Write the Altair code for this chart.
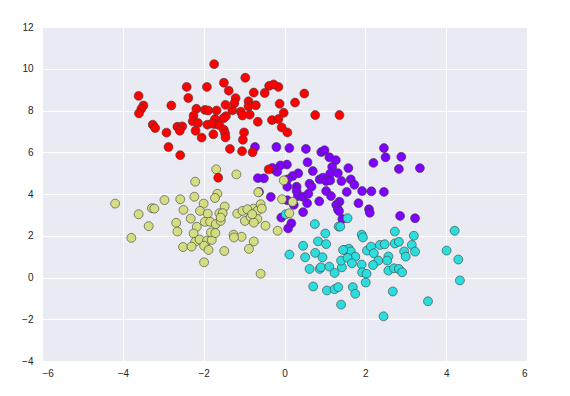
import altair as alt
import pandas as pd

# cluster 3 (red)
red_x = [-1.74, -0.97, -2.42, -1.92, -1.50, -1.38, -0.38, -0.15, -0.27, -0.76, -0.49, 0.49,
         -3.61, -2.38, -1.21, -1.24, -0.89, -0.89, -0.71, -1.46, -0.12, 0.26, -3.49, -3.54,
         -3.60, -2.80, -2.18, -1.97, -1.89, -1.68, -1.29, -1.08, -1.04, -0.86, -0.02, 0.76,
         -1.45, -1.51, -2.25, -2.27, -2.14, -1.72, -1.73, -1.91, -1.80, -1.61, -1.50, -0.66,
         -0.31, -0.15, -0.07, 0.07, -3.26, -3.20, -2.92, -2.65, -2.53, -2.59, -2.20, -2.05,
         -1.76, -1.47, -1.46, -1.00, -1.03, -2.87, -2.58, -1.35, -1.05, -0.79, -0.39, -1.64, 1.36]
red_y = [10.22, 9.57, 9.13, 9.13, 9.33, 8.95, 9.18, 9.13, 9.25, 8.86, 8.84, 8.81,
         8.70, 8.60, 8.59, 8.35, 8.44, 8.20, 8.25, 8.27, 8.32, 8.38, 8.24, 8.08,
         7.86, 8.24, 8.08, 8.03, 8.00, 8.00, 8.01, 7.94, 7.76, 7.80, 7.89, 7.78,
         7.73, 7.63, 7.75, 7.48, 7.40, 7.59, 7.35, 7.32, 7.37, 7.29, 7.08, 7.46,
         7.54, 7.59, 7.19, 6.95, 7.32, 7.16, 6.94, 7.22, 7.24, 7.03, 7.03, 6.70,
         6.86, 6.90, 6.71, 6.95, 6.60, 6.25, 5.86, 6.16, 6.05, 6.00, 5.18, 4.78, 7.78]

# cluster 0 (purple)
purple_x = [-0.73, -0.20, 0.12, 0.53, 0.91, 0.99, 1.11, 1.27, 2.46, 2.50, 2.89, 2.20,
            2.83, 3.35, 0.57, 1.18, 1.58, 0.70, 0.06, -0.10, -0.26, -0.18, 0.34, 0.20,
            0.07, -0.66, -0.51, 1.13, 1.32, 0.87, 0.95, 1.03, 1.13, 1.41, 1.64, 1.73,
            0.62, 0.67, 0.30, 0.07, 0.30, 0.33, 0.45, 0.59, -0.63, -0.34, 1.03, 1.15,
            1.54, 1.92, 2.15, 2.46, 0.86, 0.56, 0.23, 0.07, 1.36, 1.28, 1.32, 1.35,
            1.83, 2.09, 2.11, 0.46, -0.08, 0.17, 0.09, 1.43, 2.86, 3.23, -0.30]
purple_y = [6.25, 6.25, 6.20, 6.16, 6.01, 6.10, 5.76, 5.62, 6.20, 5.76, 5.78, 5.49,
            5.20, 5.24, 5.52, 5.30, 5.24, 5.10, 5.41, 5.37, 5.18, 5.06, 4.99, 4.86,
            4.70, 4.76, 4.75, 4.97, 5.00, 4.70, 4.78, 4.62, 4.65, 4.62, 4.70, 4.44,
            4.49, 4.35, 4.35, 4.35, 4.14, 3.90, 3.87, 4.01, 4.10, 3.86, 4.14, 3.90,
            4.10, 4.14, 4.13, 4.10, 3.65, 3.56, 3.48, 3.70, 3.63, 3.48, 3.27, 3.18,
            3.56, 3.27, 3.10, 3.13, 2.87, 2.60, 2.35, 2.80, 2.95, 2.84, 5.25]

# cluster 2 (yellow)
yellow_x = [-4.19, -3.61, -3.36, -3.79, -3.28, -3.22, -2.97, -2.58, -2.50, -2.68, -2.65, -2.32,
            -2.21, -2.23, -2.00, -2.09, -1.69, -1.19, -1.66, -1.72, -1.48, -1.90, -1.61, -1.53,
            -1.97, -1.84, -1.70, -1.58, -2.17, -2.25, -2.21, -2.10, -1.92, -1.80, -1.82, -1.71,
            -2.51, -2.30, -1.99, -1.88, -1.99, -1.49, -1.17, -1.04, -0.98, -0.84, -0.77, -0.67,
            -0.59, -0.56, -0.67, -0.76, -0.47, -1.26, -1.06, -1.25, -0.76, -0.88, -0.59, -0.17,
            -0.06, 0.12, -0.02, -0.65, -0.92, -0.80, -1.58, 0.20]
yellow_y = [3.54, 3.03, 2.46, 1.90, 3.32, 3.30, 3.71, 3.75, 3.24, 2.62, 2.20, 2.82,
            4.59, 3.87, 3.54, 3.19, 5.18, 4.94, 4.01, 3.81, 3.40, 3.06, 3.08, 3.08,
            2.67, 2.67, 2.56, 2.71, 2.43, 2.11, 1.71, 1.82, 1.76, 1.80, 2.16, 2.13,
            1.46, 1.48, 1.52, 1.32, 0.73, 1.27, 3.06, 3.19, 2.71, 2.90, 3.30, 3.19,
            3.51, 3.30, 2.80, 2.63, 2.48, 2.05, 1.95, 1.92, 1.73, 1.37, 0.18, 2.24,
            3.75, 3.08, 4.65, 4.08, 3.27, 3.03, 2.87, 3.62]

# cluster 1 (cyan)
cyan_x = [1.56, 1.34, 1.38, 0.75, 1.01, 1.91, 1.94, 2.73, 3.20, 4.21, 0.46, 0.12,
          0.51, 0.76, 0.83, 1.03, 0.94, 0.62, 0.87, 0.90, 1.11, 1.24, 1.42, 1.40,
          1.50, 1.59, 1.64, 1.75, 1.56, 1.67, 1.91, 1.92, 2.03, 2.01, 2.04, 2.14,
          2.21, 2.32, 2.19, 2.36, 2.48, 2.57, 2.54, 2.57, 2.71, 2.83, 2.91, 2.73,
          2.83, 2.96, 3.00, 3.15, 3.23, 4.01, 4.30, 4.34, 0.71, 1.05, 1.24, 1.33,
          1.69, 1.75, 1.40, 2.68, 3.55, 2.45, 1.45, 0.03]
cyan_y = [2.84, 2.44, 2.44, 2.56, 2.11, 2.05, 1.92, 2.20, 2.00, 2.24, 1.52, 1.10,
          0.97, 1.18, 1.73, 1.60, 0.97, 0.41, 0.41, 0.49, 0.52, 0.22, 0.49, 0.81,
          1.32, 1.38, 1.25, 1.00, 0.94, 0.68, 0.62, 0.25, 0.18, -0.24, 1.29, 1.48,
          1.16, 0.81, 0.60, 1.56, 1.59, 1.01, 0.81, 0.33, 0.44, 0.41, 0.25, 1.63,
          1.71, 1.25, 1.00, 1.56, 1.24, 1.29, 0.86, -0.14, -0.43, -0.62, -0.56, -0.46,
          -0.46, -0.78, -1.30, -0.67, -1.14, -1.86, 1.32, 3.03]

clusters = ["purple", "cyan", "yellow", "red"]
colors = ["#8000ff", "#2bdddd", "#d4dd80", "#ff0000"]

frames = []
for name, xs, ys in [("purple", purple_x, purple_y), ("cyan", cyan_x, cyan_y),
                     ("yellow", yellow_x, yellow_y), ("red", red_x, red_y)]:
    frames.append(pd.DataFrame({"x": xs, "y": ys, "cluster": name}))
df = pd.concat(frames, ignore_index=True)

chart = alt.Chart(df).mark_circle(
    size=80, opacity=1, stroke="#3c3c3c", strokeWidth=0.6
).encode(
    x=alt.X("x:Q", scale=alt.Scale(domain=[-6, 6], nice=False),
            axis=alt.Axis(values=[-6, -4, -2, 0, 2, 4, 6], title=None)),
    y=alt.Y("y:Q", scale=alt.Scale(domain=[-4, 12], nice=False),
            axis=alt.Axis(values=[-4, -2, 0, 2, 4, 6, 8, 10, 12], title=None)),
    color=alt.Color("cluster:N", scale=alt.Scale(domain=clusters, range=colors), legend=None),
).properties(
    width=485, height=334,
    autosize=alt.AutoSizeParams(type="none"),
    padding={"left": 34, "top": 19, "right": 20, "bottom": 30},
).configure_view(
    fill="#EAEAF2", stroke=None
).configure_axis(
    grid=True, gridColor="white", gridWidth=1, domain=False, ticks=False,
    labelFont="Liberation Sans", labelFontSize=10, labelColor="#262626",
    labelPadding=9
).configure_axisX(labelPadding=7)

chart.save("out.html", embed_options={"renderer": "svg", "actions": False})
